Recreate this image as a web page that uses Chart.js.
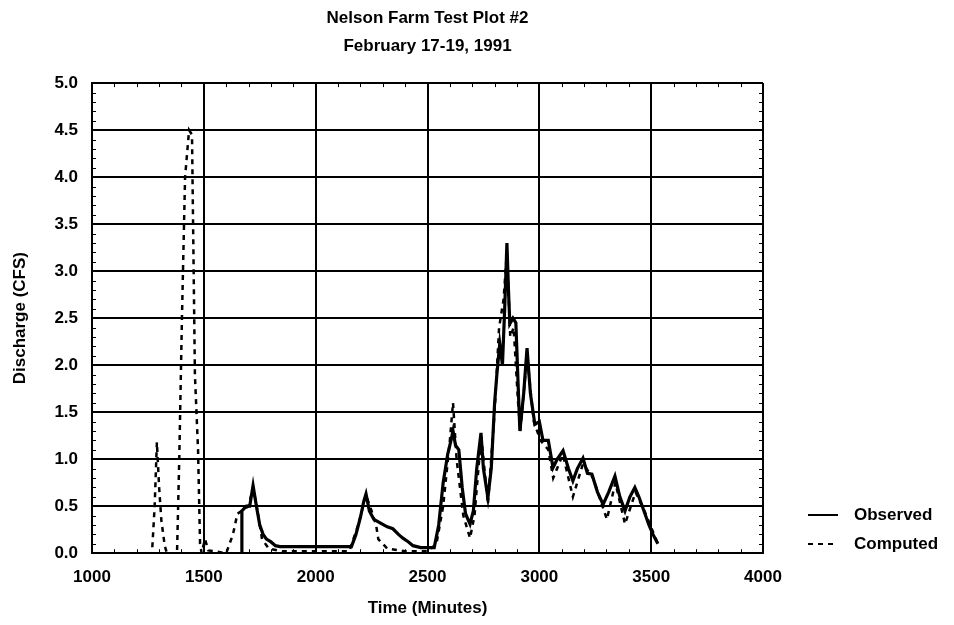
<!DOCTYPE html>
<html>
<head>
<meta charset="utf-8">
<script src="https://cdn.jsdelivr.net/npm/chart.js@4.4.1/dist/chart.umd.min.js"></script>
<style>
html,body{margin:0;padding:0;background:#fff;}
#wrap{width:954px;height:625px;}
</style>
</head>
<body>
<div id="wrap"><canvas id="c" width="954" height="625"></canvas></div>
<script>
const titleLines = ['Nelson Farm Test Plot #2', 'February 17-19, 1991'];
const xTitle = 'Time (Minutes)';
const yTitle = 'Discharge (CFS)';
const seriesNames = ['Observed', 'Computed'];

const obsTime = [1668,1670,1690,1705,1720,1735,1750,1765,1780,1800,1820,1840,2000,2160,2180,2200,2215,2225,2240,2260,2290,2320,2345,2370,2390,2415,2435,2470,2530,2550,2570,2590,2605,2614,2625,2640,2655,2670,2690,2705,2720,2739,2750,2770,2785,2800,2810,2823,2835,2845,2855,2862,2868,2882,2895,2905,2913,2930,2945,2960,2980,3000,3016,3040,3061,3080,3106,3130,3150,3170,3195,3215,3235,3260,3285,3310,3338,3360,3383,3405,3427,3445,3463,3490,3508,3530];
const obsFlow = [0,0.45,0.5,0.5,0.72,0.5,0.3,0.2,0.15,0.12,0.08,0.07,0.07,0.07,0.2,0.38,0.55,0.63,0.45,0.36,0.32,0.28,0.26,0.2,0.16,0.12,0.08,0.06,0.06,0.3,0.75,1.05,1.2,1.3,1.15,1.1,0.7,0.42,0.31,0.45,0.9,1.28,0.9,0.59,0.9,1.6,1.9,2.23,2.0,2.6,3.3,2.8,2.44,2.5,2.45,1.8,1.3,1.7,2.18,1.7,1.37,1.4,1.2,1.2,0.91,1.0,1.09,0.9,0.77,0.9,1.01,0.85,0.84,0.65,0.52,0.65,0.82,0.6,0.45,0.6,0.7,0.6,0.48,0.3,0.2,0.1];

const compTime = [1250,1268,1280,1290,1300,1310,1325,1335,1380,1390,1402,1416,1434,1447,1460,1474,1483,1490,1505,1520,1600,1630,1650,1670,1700,1720,1740,1760,1790,1850,2150,2190,2225,2250,2270,2280,2320,2400,2500,2540,2570,2600,2614,2630,2660,2690,2710,2740,2770,2800,2820,2840,2855,2870,2885,2905,2915,2945,2975,3005,3040,3062,3105,3150,3195,3240,3302,3340,3383,3430,3470,3530];
const compFlow = [0,0,0.5,1.18,0.7,0.35,0.08,0,0,1.0,2.5,4.0,4.5,4.45,1.9,1.1,0.1,0,0.15,0.03,0,0.2,0.42,0.45,0.5,0.7,0.45,0.15,0.05,0.02,0.02,0.3,0.62,0.45,0.3,0.15,0.05,0.02,0.02,0.1,0.5,1.2,1.6,1.0,0.4,0.16,0.4,1.25,0.52,1.5,2.4,2.7,3.2,2.3,2.4,1.6,1.3,2.1,1.4,1.2,1.1,0.8,1.05,0.6,0.95,0.8,0.36,0.75,0.31,0.65,0.45,0.1];

const xTicks = [1000,1500,2000,2500,3000,3500,4000];
const yTicks = [0,0.5,1,1.5,2,2.5,3,3.5,4,4.5,5];

const FONT = "'Liberation Sans', Arial, sans-serif";

const pairs = (xs, ys) => xs.map((x, i) => ({x: x, y: ys[i]}));

const frameAndLegend = {
  id: 'frameAndLegend',
  afterDraw(chart) {
    const ctx = chart.ctx;
    const xs = chart.scales.x, ys = chart.scales.y;
    const a = chart.chartArea;
    ctx.save();
    ctx.strokeStyle = '#000';
    ctx.lineWidth = 1;
    ctx.beginPath();
    for (let v = 0; v <= 5.0001; v += 0.1) {
      const py = Math.round(ys.getPixelForValue(v)) + 0.5;
      ctx.moveTo(a.left, py); ctx.lineTo(a.left + 4, py);
      ctx.moveTo(a.right, py); ctx.lineTo(a.right - 4, py);
    }
    for (let v = 1000; v <= 4000; v += 100) {
      const px = Math.round(xs.getPixelForValue(v)) + 0.5;
      ctx.moveTo(px, a.bottom); ctx.lineTo(px, a.bottom - 4);
      ctx.moveTo(px, a.top); ctx.lineTo(px, a.top + 4);
    }
    ctx.stroke();
    // legend
    const lx0 = 808, lx1 = 838;
    const rows = [515, 544];
    ctx.font = 'bold 17px ' + FONT;
    ctx.fillStyle = '#000';
    ctx.textBaseline = 'middle';
    ctx.textAlign = 'left';
    chart.data.datasets.forEach((ds, i) => {
      ctx.beginPath();
      ctx.lineWidth = 2;
      ctx.setLineDash(ds.borderDash || []);
      ctx.moveTo(lx0, rows[i]); ctx.lineTo(lx1, rows[i]);
      ctx.stroke();
      ctx.setLineDash([]);
      ctx.fillText(ds.label, 854, rows[i]);
    });
    ctx.restore();
  }
};

new Chart(document.getElementById('c'), {
  type: 'line',
  data: {
    datasets: [
      {label: seriesNames[0], data: pairs(obsTime, obsFlow), borderColor: '#000', borderWidth: 3.2, pointRadius: 0, tension: 0, fill: false},
      {label: seriesNames[1], data: pairs(compTime, compFlow), borderColor: '#000', borderWidth: 2.5, borderDash: [5, 5], pointRadius: 0, tension: 0, fill: false}
    ]
  },
  options: {
    responsive: false,
    animation: false,
    devicePixelRatio: 1,
    layout: {padding: {left: 10, right: 191, top: 0, bottom: 6}},
    plugins: {
      legend: {display: false},
      tooltip: {enabled: false},
      title: {
        display: true,
        text: titleLines,
        fullSize: false,
        color: '#000',
        font: {family: FONT, size: 17, weight: 'bold', lineHeight: 1.65},
        padding: {top: 4, bottom: 23}
      }
    },
    scales: {
      x: {
        type: 'linear', min: 1000, max: 4000,
        afterBuildTicks: s => { s.ticks = xTicks.map(v => ({value: v})); },
        ticks: {color: '#000', font: {family: FONT, size: 17, weight: 'bold'}, padding: 14, maxRotation: 0, callback: v => String(v)},
        grid: {color: '#000', lineWidth: 2, drawTicks: false},
        border: {color: '#000', width: 2},
        title: {display: true, text: xTitle, color: '#000', font: {family: FONT, size: 17, weight: 'bold'}, padding: {top: -3, bottom: 0}}
      },
      y: {
        type: 'linear', min: 0, max: 5,
        afterBuildTicks: s => { s.ticks = yTicks.map(v => ({value: v})); },
        ticks: {color: '#000', font: {family: FONT, size: 17, weight: 'bold'}, padding: 14, callback: v => Number(v).toFixed(1)},
        grid: {color: '#000', lineWidth: 2, drawTicks: false},
        border: {color: '#000', width: 2},
        title: {display: true, text: yTitle, color: '#000', font: {family: FONT, size: 17, weight: 'bold'}, padding: {top: 0, bottom: 10}}
      }
    }
  },
  plugins: [frameAndLegend]
});
</script>
</body>
</html>
